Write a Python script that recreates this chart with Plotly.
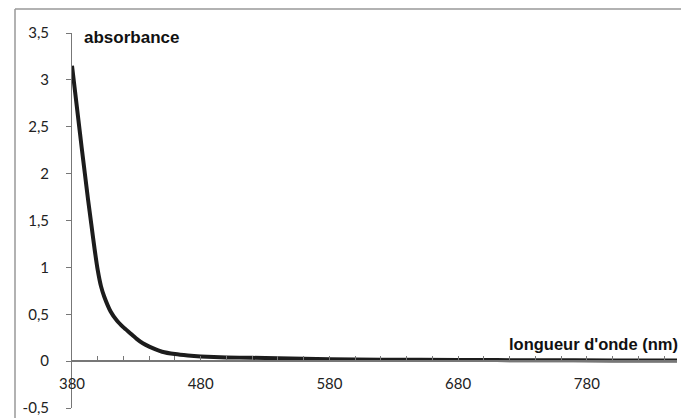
import plotly.graph_objects as go

# data
wavelength = [380, 385, 387.5, 390, 392.5, 395, 397.5, 400, 402.5, 405, 410, 415, 420, 425,
              430, 435, 440, 445, 450, 460, 470, 480, 500, 520, 540, 580, 620, 680, 740, 800, 850]
absorbance = [3.15, 2.57, 2.28, 2.0, 1.72, 1.46, 1.20, 0.97, 0.80, 0.69, 0.53, 0.43, 0.36, 0.30,
              0.24, 0.19, 0.155, 0.125, 0.10, 0.075, 0.06, 0.05, 0.04, 0.035, 0.03, 0.02, 0.016,
              0.012, 0.01, 0.008, 0.006]

x_tick_vals = list(range(380, 851, 20))
x_tick_text = [str(v) if (v - 380) % 100 == 0 else "" for v in x_tick_vals]
y_tick_vals = [-0.5, 0, 0.5, 1, 1.5, 2, 2.5, 3, 3.5]
y_tick_text = ["-0,5", "0", "0,5", "1", "1,5", "2", "2,5", "3", "3,5"]

OFF = 8  # page body margin
W, H = 689 - OFF, 418 - OFF
L, R, T, B = 72 - OFF, 12, 33 - OFF, 10
pw, ph = W - L - R, H - T - B

def px_x(p):
    # p in page pixels
    return (p - OFF - L) / pw

def px_y(p):
    return (H - B - (p - OFF)) / ph

fig = go.Figure()
fig.add_trace(go.Scatter(
    x=wavelength, y=absorbance, mode="lines",
    line=dict(color="#1c1c1c", width=4, shape="spline", smoothing=0.5),
    hoverinfo="skip", showlegend=False,
))

tick_font = dict(family="Lato, Open Sans, sans-serif", size=15, color="#222222")

fig.update_layout(
    width=W, height=H,
    margin=dict(l=L, r=R, t=T, b=B, autoexpand=False),
    paper_bgcolor="white", plot_bgcolor="white",
    showlegend=False,
    xaxis=dict(
        range=[380, 850], anchor="free", position=0.125, automargin=False,
        tickmode="array", tickvals=x_tick_vals, ticktext=x_tick_text,
        ticks="inside", ticklen=4, tickcolor="#777777", tickwidth=1,
        showline=True, linecolor="#777777", linewidth=1.5,
        showgrid=False, zeroline=False, tickfont=tick_font,
        ticklabelstandoff=9,
    ),
    yaxis=dict(
        range=[-0.5, 3.5], automargin=False,
        tickmode="array", tickvals=y_tick_vals, ticktext=y_tick_text,
        ticks="outside", ticklen=5, tickcolor="#777777", tickwidth=1,
        showline=True, linecolor="#777777", linewidth=1,
        showgrid=False, zeroline=False, tickfont=tick_font,
        ticklabelstandoff=14,
    ),
    shapes=[
        dict(type="line", xref="paper", yref="paper",
             x0=px_x(15), x1=px_x(700), y0=px_y(9), y1=px_y(9),
             line=dict(color="#999999", width=1.5)),
        dict(type="line", xref="paper", yref="paper",
             x0=px_x(15), x1=px_x(15), y0=px_y(9), y1=px_y(430),
             line=dict(color="#999999", width=1.5)),
    ],
    annotations=[
        dict(text="<b>absorbance</b>", xref="paper", yref="paper",
             x=px_x(82), y=px_y(38), xanchor="left", yanchor="middle",
             showarrow=False,
             font=dict(family="Liberation Sans, Arial, sans-serif", size=17, color="#111111")),
        dict(text="<b>longueur d'onde (nm)</b>", xref="paper", yref="paper",
             x=px_x(680), y=px_y(344), xanchor="right", yanchor="middle",
             showarrow=False,
             font=dict(family="Liberation Sans, Arial, sans-serif", size=16.5, color="#111111")),
    ],
)

fig.write_html("out.html")
